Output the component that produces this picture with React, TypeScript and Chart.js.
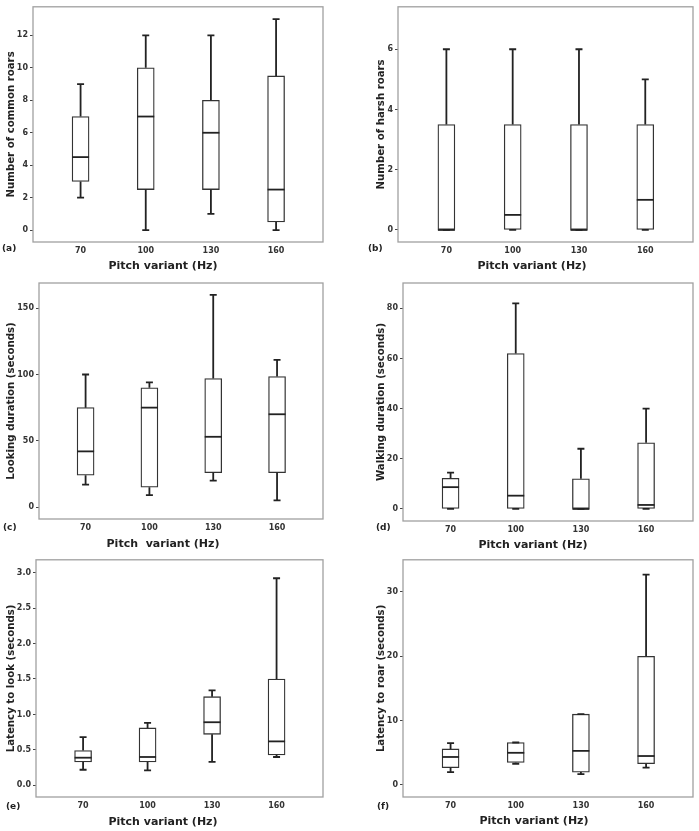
import React, { useEffect, useRef } from "react";
import { Chart, registerables } from "chart.js";
Chart.register(...registerables);

const categories = ["70", "100", "130", "160"];

// (a) Number of common roars
const commonLow = [2, 0, 1, 0];
const commonQ1 = [3, 2.5, 2.5, 0.5];
const commonMedian = [4.5, 7, 6, 2.5];
const commonQ3 = [7, 10, 8, 9.5];
const commonHigh = [9, 12, 12, 13];
const commonTicks = [0, 2, 4, 6, 8, 10, 12];

// (b) Number of harsh roars
const harshLow = [0, 0, 0, 0];
const harshQ1 = [0, 0, 0, 0];
const harshMedian = [0, 0.5, 0, 1];
const harshQ3 = [3.5, 3.5, 3.5, 3.5];
const harshHigh = [6, 6, 6, 5];
const harshTicks = [0, 2, 4, 6];

// (c) Looking duration
const lookLow = [17, 9, 20, 5];
const lookQ1 = [24, 15, 26, 26];
const lookMedian = [42, 75, 53, 70];
const lookQ3 = [75, 90, 97, 98.5];
const lookHigh = [100, 94, 160, 111];
const lookTicks = [0, 50, 100, 150];

// (d) Walking duration
const walkLow = [0, 0, 0, 0];
const walkQ1 = [0, 0, 0, 0];
const walkMedian = [8.7, 5.3, 0, 1.6];
const walkQ3 = [12.2, 62, 12, 26.4];
const walkHigh = [14.5, 82, 24, 40];
const walkTicks = [0, 20, 40, 60, 80];

// (e) Latency to look
const lookLatLow = [0.22, 0.21, 0.33, 0.4];
const lookLatQ1 = [0.33, 0.33, 0.72, 0.43];
const lookLatMedian = [0.39, 0.4, 0.89, 0.62];
const lookLatQ3 = [0.49, 0.81, 1.25, 1.5];
const lookLatHigh = [0.68, 0.88, 1.34, 2.92];
const lookLatTicks = [0, 0.5, 1, 1.5, 2, 2.5, 3];

// (f) Latency to roar
const roarLatLow = [2.0, 3.3, 1.7, 2.7];
const roarLatQ1 = [2.7, 3.5, 2.0, 3.3];
const roarLatMedian = [4.35, 5.0, 5.3, 4.5];
const roarLatQ3 = [5.6, 6.6, 11, 20];
const roarLatHigh = [6.5, 6.6, 11, 32.7];
const roarLatTicks = [0, 10, 20, 30];

const FAMILY = "'DejaVu Sans', sans-serif";

type PanelSpec = {
  letter: string;
  yTitle: string;
  xTitle: string;
  low: number[];
  q1: number[];
  median: number[];
  q3: number[];
  high: number[];
  ticks: number[];
  yMin: number;
  yMax: number;
  decimals: number;
  canvas: [number, number, number, number];
  frame: [number, number, number, number];
  yTitleX: number;
  xTitlePos: [number, number];
  letterPos: [number, number];
};

const panels: PanelSpec[] = [
  {
    letter: "(a)", yTitle: "Number of common roars", xTitle: "Pitch variant (Hz)",
    low: commonLow, q1: commonQ1, median: commonMedian, q3: commonQ3, high: commonHigh,
    ticks: commonTicks, yMin: -0.73, yMax: 13.76, decimals: 0,
    canvas: [0, 0, 350, 275], frame: [33, 5, 323, 242], yTitleX: 11,
    xTitlePos: [163, 266], letterPos: [2, 249],
  },
  {
    letter: "(b)", yTitle: "Number of harsh roars", xTitle: "Pitch variant (Hz)",
    low: harshLow, q1: harshQ1, median: harshMedian, q3: harshQ3, high: harshHigh,
    ticks: harshTicks, yMin: -0.4, yMax: 7.41, decimals: 0,
    canvas: [350, 0, 349, 275], frame: [398, 5, 693, 242], yTitleX: 381,
    xTitlePos: [532, 266], letterPos: [368, 249],
  },
  {
    letter: "(c)", yTitle: "Looking duration (seconds)", xTitle: "Pitch  variant (Hz)",
    low: lookLow, q1: lookQ1, median: lookMedian, q3: lookQ3, high: lookHigh,
    ticks: lookTicks, yMin: -9, yMax: 169, decimals: 0,
    canvas: [0, 275, 350, 278], frame: [39, 283, 323, 519], yTitleX: 11,
    xTitlePos: [163, 544], letterPos: [3, 528],
  },
  {
    letter: "(d)", yTitle: "Walking duration (seconds)", xTitle: "Pitch variant (Hz)",
    low: walkLow, q1: walkQ1, median: walkMedian, q3: walkQ3, high: walkHigh,
    ticks: walkTicks, yMin: -4.8, yMax: 90.1, decimals: 0,
    canvas: [350, 275, 349, 278], frame: [403, 283, 693, 521], yTitleX: 381,
    xTitlePos: [533, 545], letterPos: [376, 528],
  },
  {
    letter: "(e)", yTitle: "Latency to look (seconds)", xTitle: "Pitch variant (Hz)",
    low: lookLatLow, q1: lookLatQ1, median: lookLatMedian, q3: lookLatQ3, high: lookLatHigh,
    ticks: lookLatTicks, yMin: -0.164, yMax: 3.18, decimals: 1,
    canvas: [0, 553, 350, 278], frame: [36, 559, 323, 797], yTitleX: 11,
    xTitlePos: [163, 822], letterPos: [6, 807],
  },
  {
    letter: "(f)", yTitle: "Latency to roar (seconds)", xTitle: "Pitch variant (Hz)",
    low: roarLatLow, q1: roarLatQ1, median: roarLatMedian, q3: roarLatQ3, high: roarLatHigh,
    ticks: roarLatTicks, yMin: -1.87, yMax: 35.0, decimals: 0,
    canvas: [350, 553, 349, 278], frame: [403, 559, 693, 797], yTitleX: 381,
    xTitlePos: [534, 821], letterPos: [377, 807],
  },
];

function Panel({ p }: { p: PanelSpec }) {
  const ref = useRef<HTMLCanvasElement>(null);
  useEffect(() => {
    if (!ref.current) return;
    const [cl, ct, cw, ch] = p.canvas;
    const [fl, ft, fr, fb] = p.frame;
    const tickFont = { family: FAMILY, size: 8, weight: "bold" as const };
    const boxPlugin = {
      id: "boxExtras",
      afterDatasetsDraw(chart: any) {
        const ctx = chart.ctx;
        const y = chart.scales.y;
        const meta = chart.getDatasetMeta(0);
        ctx.save();
        ctx.strokeStyle = "#222";
        meta.data.forEach((bar: any, i: number) => {
          const x = bar.x;
          const hw = bar.width / 2;
          const yHigh = y.getPixelForValue(p.high[i]);
          const yQ3 = y.getPixelForValue(p.q3[i]);
          const yQ1 = y.getPixelForValue(p.q1[i]);
          const yLow = y.getPixelForValue(p.low[i]);
          const yMed = y.getPixelForValue(p.median[i]);
          ctx.lineWidth = 1.8;
          ctx.beginPath();
          ctx.moveTo(x, yQ3);
          ctx.lineTo(x, yHigh);
          ctx.moveTo(x, yQ1);
          ctx.lineTo(x, yLow);
          ctx.moveTo(x - 3.5, yHigh);
          ctx.lineTo(x + 3.5, yHigh);
          ctx.moveTo(x - 3.5, yLow);
          ctx.lineTo(x + 3.5, yLow);
          ctx.stroke();
          ctx.beginPath();
          ctx.moveTo(x - hw, yMed);
          ctx.lineTo(x + hw, yMed);
          ctx.stroke();
        });
        ctx.restore();
      },
      afterDraw(chart: any) {
        const ctx = chart.ctx;
        const a = chart.chartArea;
        ctx.save();
        ctx.strokeStyle = "#a0a0a0";
        ctx.lineWidth = 1.3;
        ctx.strokeRect(a.left, a.top, a.right - a.left, a.bottom - a.top);
        ctx.fillStyle = "#222";
        ctx.textBaseline = "middle";
        ctx.textAlign = "center";
        ctx.font = `bold 11px ${FAMILY}`;
        ctx.fillText(p.xTitle, p.xTitlePos[0] - cl, p.xTitlePos[1] - ct);
        ctx.textAlign = "left";
        ctx.font = `bold 9px ${FAMILY}`;
        ctx.fillText(p.letter, p.letterPos[0] - cl, p.letterPos[1] - ct);
        ctx.restore();
      },
    };
    const chart = new Chart(ref.current, {
      type: "bar",
      data: {
        datasets: [
          {
            data: categories.map((_, i) => ({ x: i, y: [p.q1[i], p.q3[i]] })) as any,
            backgroundColor: "#ffffff",
            borderColor: "#333",
            borderWidth: 1.3,
            borderSkipped: false,
            barThickness: 17,
          },
        ],
      },
      options: {
        animation: false,
        responsive: false,
        layout: { padding: { left: 0, top: ft - ct, right: cl + cw - fr, bottom: 0 } },
        plugins: { legend: { display: false }, tooltip: { enabled: false } },
        scales: {
          x: {
            type: "linear",
            offset: false,
            min: -0.73,
            max: 3.72,
            afterBuildTicks: (s: any) => {
              s.ticks = categories.map((_, i) => ({ value: i }));
            },
            afterFit: (s: any) => {
              s.height = ct + ch - fb;
            },
            grid: { display: false, drawTicks: false, offset: false },
            border: { display: false },
            ticks: {
              callback: (v: any) => categories[Number(v)] ?? "",
              padding: 4,
              font: tickFont,
              color: "#333",
              maxRotation: 0,
              autoSkip: false,
            },
          },
          y: {
            type: "linear",
            min: p.yMin,
            max: p.yMax,
            afterBuildTicks: (s: any) => {
              s.ticks = p.ticks.map((v) => ({ value: v }));
            },
            afterFit: (s: any) => {
              s.width = fl - cl;
            },
            grid: { drawOnChartArea: false, drawTicks: true, tickLength: 3, color: "#444", lineWidth: 1 },
            border: { display: false },
            ticks: {
              padding: 2,
              font: tickFont,
              color: "#333",
              autoSkip: false,
              callback: (v: any) => Number(v).toFixed(p.decimals),
            },
            title: {
              display: true,
              text: p.yTitle,
              color: "#222",
              font: { family: FAMILY, size: 10.2, weight: "bold" },
              padding: { top: p.yTitleX - cl - 6.1, bottom: 0 },
            },
          },
        },
      } as any,
      plugins: [boxPlugin],
    });
    return () => chart.destroy();
  }, [p]);
  const [cl, ct, cw, ch] = p.canvas;
  return (
    <canvas
      ref={ref}
      width={cw}
      height={ch}
      style={{ position: "absolute", left: cl, top: ct, width: cw, height: ch }}
    />
  );
}

export default function App() {
  return (
    <div style={{ position: "absolute", left: 0, top: 0, width: 699, height: 831, background: "#fff" }}>
      {panels.map((p) => (
        <Panel key={p.letter} p={p} />
      ))}
    </div>
  );
}
